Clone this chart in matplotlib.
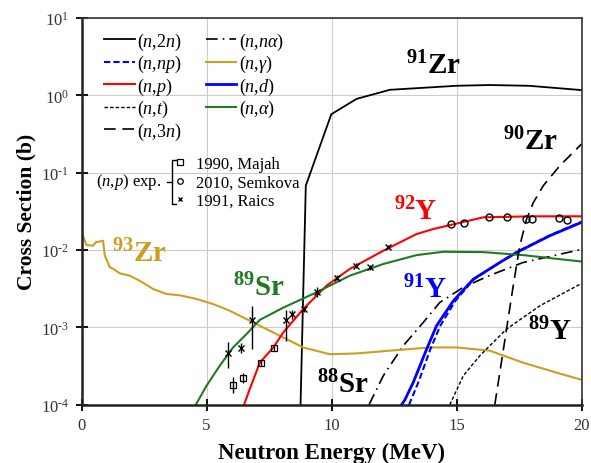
import matplotlib
matplotlib.use("Agg")
import matplotlib.pyplot as plt
from matplotlib.lines import Line2D
from matplotlib.ticker import FuncFormatter
import numpy as np

plt.rcParams['font.family'] = ['Liberation Serif', 'DejaVu Serif']
plt.rcParams['mathtext.fontset'] = 'custom'
plt.rcParams['mathtext.rm'] = 'Liberation Serif'
plt.rcParams['mathtext.it'] = 'Liberation Serif:italic'
plt.rcParams['mathtext.bf'] = 'Liberation Serif:bold'

# ---------------- data ----------------
n2n_x = [8.76, 8.97, 9.99, 11.0, 12.33, 15.0, 16.3, 17.9, 20.0]
n2n_y = [1e-4, 0.068, 0.57, 0.90, 1.18, 1.33, 1.36, 1.33, 1.17]

nna_x = [11.5, 12.07, 12.87, 13.67, 14.33, 15.27, 16.33, 17.66, 20.0]
nna_y = [1e-4, 0.000237, 0.00058, 0.00116, 0.0021, 0.0033, 0.0047, 0.0069, 0.0102]

nnp_x = [13.1, 13.5, 13.95, 14.35, 14.95, 15.7, 16.73, 17.4, 18.73, 20.0]
nnp_y = [1e-4, 0.000205, 0.00052, 0.00105, 0.0022, 0.0042, 0.0069, 0.0094, 0.0155, 0.0232]

ng_x = [0.0, 0.04, 0.2, 0.46, 0.57, 0.86, 0.93, 1.13, 1.27, 1.53, 1.93, 2.33, 2.87,
        3.4, 3.93, 4.6, 5.27, 5.93, 6.6, 7.13, 8.07, 8.87, 9.93, 11.0, 12.33, 13.93,
        15.0, 16.33, 17.66, 19.0, 20.0]
ng_y = [0.0162, 0.0156, 0.0116, 0.0114, 0.0126, 0.0132, 0.0085, 0.0060, 0.0057,
        0.0050, 0.00466, 0.0040, 0.00313, 0.0027, 0.0026, 0.00233, 0.0020, 0.00164,
        0.00128, 0.00105, 0.00074, 0.00055, 0.00045, 0.00046, 0.0005, 0.00055,
        0.00055, 0.0005, 0.00035, 0.00026, 0.00021]

np_x = [6.5, 6.73, 7.13, 7.67, 8.07, 8.87, 9.8, 10.73, 12.07, 13.4, 14.07, 16.07, 18.07, 20.0]
np_y = [1e-4, 0.00016, 0.00035, 0.00055, 0.00086, 0.00173, 0.00346, 0.0057, 0.0098,
        0.0161, 0.0187, 0.0265, 0.0273, 0.0273]

nd_x = [12.8, 12.93, 13.27, 13.8, 14.2, 14.87, 15.67, 16.73, 17.4, 18.73, 20.0]
nd_y = [1e-4, 0.000115, 0.000195, 0.00052, 0.00105, 0.0022, 0.0042, 0.0069, 0.0093, 0.0153, 0.0228]

nt_x = [14.73, 15.27, 15.93, 17.0, 18.33, 20.0]
nt_y = [1e-4, 0.000237, 0.00043, 0.00095, 0.0019, 0.0037]

na_x = [4.57, 5.0, 5.53, 6.06, 6.6, 7.13, 8.07, 9.4, 10.73, 12.07, 13.4, 14.47, 16.07, 17.66, 20.0]
na_y = [1e-4, 0.000176, 0.00032, 0.00055, 0.00082, 0.00125, 0.0018, 0.00284, 0.00466,
        0.0066, 0.0086, 0.0095, 0.0094, 0.0086, 0.0071]

n3n_x = [16.53, 16.73, 17.0, 17.27, 17.53, 17.8, 18.07, 18.47, 19.13, 20.0]
n3n_y = [1e-4, 0.00026, 0.00095, 0.0035, 0.0114, 0.025, 0.041, 0.068, 0.123, 0.235]

# experimental (n,p)
majah_x = [6.07, 6.47, 7.17, 7.69]
majah_y = [0.00018, 0.00022, 0.00035, 0.00054]
majah_lo = [0.00014, 0.00019, 0.00032, 0.00050]
majah_hi = [0.00023, 0.00026, 0.00038, 0.00058]

semkova_x = [14.77, 15.3, 16.29, 17.0, 17.77, 18.0, 19.1, 19.4]
semkova_y = [0.0217, 0.0224, 0.0265, 0.0265, 0.025, 0.025, 0.0256, 0.0246]

raics_x = [5.84, 6.36, 6.8, 8.17, 8.43, 8.9, 9.42, 10.22, 10.96, 11.53, 12.24]
raics_y = [0.00047, 0.00054, 0.00126, 0.00124, 0.0015, 0.00172, 0.0029, 0.0044, 0.0063, 0.006, 0.011]
raics_lo = [0.000295, 0.00046, 0.00052, 0.00067, 0.0013, 0.00160, 0.0025, 0.0041, 0.0059, 0.0056, 0.0104]
raics_hi = [0.00065, 0.00063, 0.0019, 0.0017, 0.0017, 0.00185, 0.0033, 0.0047, 0.0067, 0.0064, 0.0117]

x_ticks = [0, 5, 10, 15, 20]
y_ticks = [1e-4, 1e-3, 1e-2, 1e-1, 1e0, 1e1]

# ---------------- plot ----------------
gold = '#CC9E22'
green = '#1E7B22'
red = '#FF0000'
blue = '#0000FF'

fig = plt.figure(figsize=(5.91, 4.64), dpi=100)
ax = fig.add_axes([0.138, 0.1256, 0.846, 0.8334])
ax.set_yscale('log')
ax.set_xlim(0, 20)
ax.set_ylim(1e-4, 10)

lw = 1.5
h_n2n, = ax.plot(n2n_x, n2n_y, color='black', lw=1.3, label=r'($\mathit{n}$,2$\mathit{n}$)')
h_nna, = ax.plot(nna_x, nna_y, color='black', lw=1.2, dashes=(7, 3, 1, 3),
                 label=r'($\mathit{n}$,$\mathit{n\alpha}$)')
h_ng, = ax.plot(ng_x, ng_y, color=gold, lw=lw, label=r'($\mathit{n}$,$\mathit{\gamma}$)')
h_np, = ax.plot(np_x, np_y, color=red, lw=lw, label=r'($\mathit{n}$,$\mathit{p}$)')
h_nd, = ax.plot(nd_x, nd_y, color=blue, lw=2.0, label=r'($\mathit{n}$,$\mathit{d}$)')
h_nnp, = ax.plot(nnp_x, nnp_y, color=blue, lw=1.5, dashes=(3, 1.5),
                 label=r'($\mathit{n}$,$\mathit{np}$)')
h_nt, = ax.plot(nt_x, nt_y, color='black', lw=1.0, dashes=(2.5, 1.5), label=r'($\mathit{n}$,$\mathit{t}$)')
h_na, = ax.plot(na_x, na_y, color=green, lw=lw, label=r'($\mathit{n}$,$\alpha$)')
h_n3n, = ax.plot(n3n_x, n3n_y, color='black', lw=1.2, dashes=(7, 4),
                 label=r'($\mathit{n}$,3$\mathit{n}$)')

# experimental points
yerr_m = [np.array(majah_y) - np.array(majah_lo), np.array(majah_hi) - np.array(majah_y)]
ax.errorbar(majah_x, majah_y, yerr=yerr_m, fmt='s', ms=4, mfc='none', mec='black',
            mew=0.9, ecolor='black', elinewidth=1.0, capsize=0, zorder=5)
h_maj = Line2D([], [], marker='s', ls='none', ms=4, mfc='none', mec='black', mew=0.9)
ax.plot(semkova_x, semkova_y, 'o', ms=5, mfc='none', mec='black', mew=1.0, zorder=5)
h_sem = Line2D([], [], marker='o', ls='none', ms=4, mfc='none', mec='black', mew=0.9)
yerr_r = [np.array(raics_y) - np.array(raics_lo), np.array(raics_hi) - np.array(raics_y)]
ax.errorbar(raics_x, raics_y, yerr=yerr_r, fmt='x', ms=4, mec='black', mew=1.0,
            ecolor='black', elinewidth=1.0, capsize=0, zorder=5)
h_rai = Line2D([], [], marker='x', ls='none', ms=3.5, mec='black', mew=1.0)

# axes style
ax.set_xticks(x_ticks)
ax.set_xticklabels([str(t) for t in x_ticks])
ax.set_yticks(y_ticks)


def yfmt(v, pos):
    e = int(round(np.log10(v)))
    s = str(e).replace('-', '\u2010')
    return '10$^{' + s + '}$'


ax.yaxis.set_major_formatter(FuncFormatter(yfmt))
ax.grid(True, which='major', color='#cccccc', lw=0.8)
ax.minorticks_off()
ax.tick_params(axis='both', which='major', direction='inout', length=8, width=1.3,
               labelsize=12, labelcolor='#333333', pad=5)
for side in ['left', 'bottom']:
    ax.spines[side].set_linewidth(1.8)
    ax.spines[side].set_color('#222222')
for side in ['top', 'right']:
    ax.spines[side].set_linewidth(1.2)
    ax.spines[side].set_color('#333333')
ax.set_axisbelow(True)

ax.set_xlabel('Neutron Energy (MeV)', fontsize=16.5, fontweight='bold', labelpad=6)
ax.set_ylabel('Cross Section (b)', fontsize=15.5, fontweight='bold', labelpad=3)

# legend
handles = [h_n2n, h_nnp, h_np, h_nt, h_n3n, h_nna, h_ng, h_nd, h_na]
leg = ax.legend(handles=handles, labels=[h.get_label() for h in handles], ncol=2,
                loc='upper left', bbox_to_anchor=(0.045, 0.968), frameon=False,
                fontsize=13, handlelength=1.7, handletextpad=0.15, columnspacing=1.3,
                labelspacing=0.08, borderpad=0, borderaxespad=0)
ax.add_artist(leg)
leg2 = ax.legend(handles=[h_maj, h_sem, h_rai],
                 labels=['1990, Majah', '2010, Semkova', '1991, Raics'],
                 loc='upper left', bbox_to_anchor=(0.186, 0.643), frameon=False,
                 fontsize=12, handlelength=0.6, handletextpad=0.7, labelspacing=0.15,
                 borderpad=0, borderaxespad=0)
fig.text(96 / 591, 1 - 182 / 464, r'($\mathit{n}$,$\mathit{p}$) exp.', fontsize=12,
         ha='left', va='center')
# bracket
bx = [176 / 591, 171.7 / 591, 171.7 / 591, 176 / 591]
by = [1 - 160.7 / 464, 1 - 160.7 / 464, 1 - 205 / 464, 1 - 205 / 464]
fig.add_artist(Line2D(bx, by, color='black', lw=1.0, transform=fig.transFigure))
fig.add_artist(Line2D([166.7 / 591, 171.7 / 591], [1 - 183 / 464, 1 - 183 / 464], color='black',
                      lw=1.0, transform=fig.transFigure))

# isotope labels
lab_kw = dict(fontsize=21, fontweight='bold', ha='left', va='baseline')
ax.text(12.99, 1.95, r'$\mathbf{^{91}}$Zr', color='black', **lab_kw)
ax.text(16.87, 0.202, r'$\mathbf{^{90}}$Zr', color='black', **lab_kw)
ax.text(12.5, 0.0252, r'$\mathbf{^{92}}$Y', color=red, **lab_kw)
ax.text(12.87, 0.00245, r'$\mathbf{^{91}}$Y', color=blue, **lab_kw)
ax.text(17.86, 0.00071, r'$\mathbf{^{89}}$Y', color='black', **lab_kw)
ax.text(9.42, 0.000145, r'$\mathbf{^{88}}$Sr', color='black', **lab_kw)
ax.text(6.07, 0.00257, r'$\mathbf{^{89}}$Sr', color=green, **lab_kw)
ax.text(1.2, 0.00706, r'$\mathbf{^{93}}$Zr', color=gold, **lab_kw)

fig.savefig('out.png', dpi=100)
